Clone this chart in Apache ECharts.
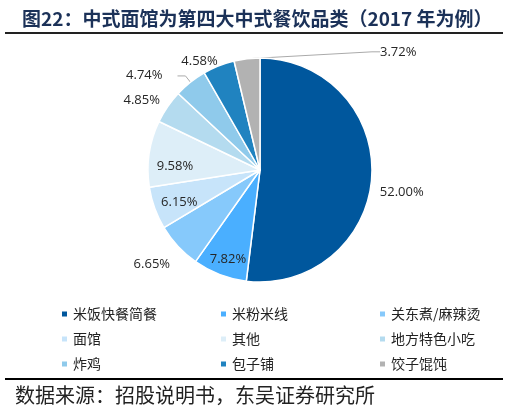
<!DOCTYPE html>
<html>
<head>
<meta charset="utf-8">
<script src="https://cdn.jsdelivr.net/npm/echarts@6/dist/echarts.min.js"></script>
<style>
  html, body { margin: 0; padding: 0; background: #fff; }
  #chart { width: 509px; height: 413px; }
</style>
</head>
<body>
<div id="chart"></div>
<script>
const categories = ["米饭快餐简餐", "米粉米线", "关东煮/麻辣烫", "面馆", "其他", "地方特色小吃", "炸鸡", "包子铺", "饺子馄饨"]
const shares = [52.00, 7.82, 6.65, 6.15, 9.58, 4.85, 4.74, 4.58, 3.72]
const colors = ["#00579d", "#4aafff", "#86c9fb", "#c7e4fa", "#ddeef8", "#b4dbef", "#8fcaeb", "#2083c0", "#b2b2b2"]
// labels drawn inside the slice, others outside
const insideLabels = ["米粉米线", "面馆", "其他"]
const lineLabels = ["炸鸡", "饺子馄饨"]
const legendColumns = [
  ["米饭快餐简餐", "面馆", "炸鸡"],
  ["米粉米线", "其他", "包子铺"],
  ["关东煮/麻辣烫", "地方特色小吃", "饺子馄饨"]
]

const labelFont = { fontFamily: "Open Sans, Noto Sans, sans-serif", fontSize: 13, color: "#262626" }

// small nudges so labels sit where the original put them
const labelNudge = {
  "米饭快餐简餐": [-13, 15],
  "米粉米线": [0, 6],
  "关东煮/麻辣烫": [11, 13],
  "面馆": [3, 2],
  "其他": [3, 9],
  "地方特色小吃": [12, -2],
  "炸鸡": [-10, -1],
  "包子铺": [15, 3]
}

const chart = echarts.init(document.getElementById("chart"))

const outerData = categories.map((name, i) => ({
  name,
  value: shares[i],
  itemStyle: { color: colors[i] },
  label: { show: !insideLabels.includes(name) },
  labelLine: { show: lineLabels.includes(name) }
}))

const innerData = categories.map((name, i) => ({
  name,
  value: shares[i],
  label: { show: insideLabels.includes(name) }
}))

function nudge(params) {
  const name = categories[params.dataIndex]
  if (name === "饺子馄饨") {
    // this label sits off to the right with a long leader line
    return { x: 380, y: params.labelRect.y + params.labelRect.height / 2 + 1, align: "left", verticalAlign: "middle" }
  }
  const d = labelNudge[name] || [0, 0]
  return { dx: d[0], dy: d[1] }
}

const option = {
  animation: false,
  title: {
    text: "图22：中式面馆为第四大中式餐饮品类（2017 年为例）",
    left: 17,
    top: 4,
    textStyle: { fontFamily: "Noto Sans CJK SC", fontWeight: "bold", fontSize: 19, color: "#1b3158" }
  },
  legend: legendColumns.map((col, k) => ({
    data: col,
    orient: "vertical",
    left: 55 + k * 159,
    top: 302,
    itemWidth: 7,
    itemHeight: 7,
    itemGap: 11,
    icon: "rect",
    selectedMode: false,
    textStyle: { fontFamily: "Noto Sans CJK SC", fontSize: 14, color: "#222" }
  })),
  graphic: [
    { type: "rect", shape: { x: 5, y: 32, width: 498, height: 2 }, style: { fill: "#222" } },
    { type: "rect", shape: { x: 5, y: 378, width: 498, height: 2 }, style: { fill: "#000" } },
    {
      type: "text", left: 15, top: 385,
      style: { text: "数据来源：招股说明书，东吴证券研究所", font: "20px 'Noto Sans CJK SC'", fill: "#222" }
    }
  ],
  series: [
    {
      type: "pie",
      center: [260, 170],
      radius: [0, 112],
      startAngle: 90,
      clockwise: true,
      avoidLabelOverlap: false,
      itemStyle: { borderColor: "#fff", borderWidth: 1.5 },
      label: Object.assign({ position: "outside", formatter: p => p.value.toFixed(2) + "%" }, labelFont),
      labelLine: { length: 8, length2: 8, lineStyle: { color: "#aaa", width: 1 } },
      labelLayout: nudge,
      emphasis: { disabled: true },
      data: outerData
    },
    {
      type: "pie",
      center: [260, 170],
      radius: [60, 112],
      startAngle: 90,
      clockwise: true,
      silent: true,
      legendHoverLink: false,
      itemStyle: { color: "rgba(0,0,0,0)" },
      label: Object.assign({ position: "inside", formatter: p => p.value.toFixed(2) + "%" }, labelFont),
      labelLine: { show: false },
      labelLayout: nudge,
      emphasis: { disabled: true },
      data: innerData
    }
  ]
}

chart.setOption(option)
</script>
</body>
</html>
